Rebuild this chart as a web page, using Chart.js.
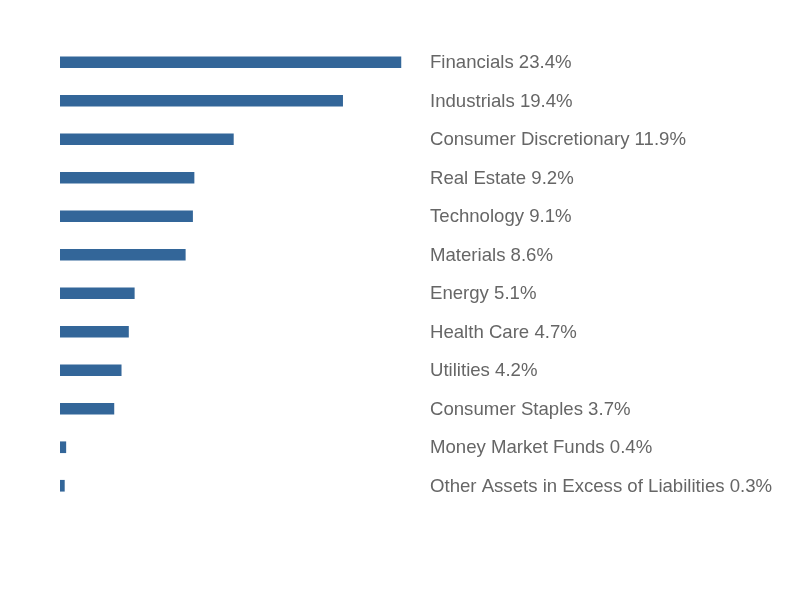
<!DOCTYPE html>
<html>
<head>
<meta charset="utf-8">
<script src="https://cdn.jsdelivr.net/npm/chart.js@4"></script>
<style>
  html, body { margin: 0; padding: 0; background: #fff; }
  #wrap { width: 792px; height: 600px; position: relative; }
</style>
</head>
<body>
<div id="wrap"><canvas id="sectors"></canvas></div>
<script>
// ===== Sector weights =====
const sectors = [
  'Financials', 'Industrials', 'Consumer Discretionary', 'Real Estate',
  'Technology', 'Materials', 'Energy', 'Health Care', 'Utilities',
  'Consumer Staples', 'Money Market Funds', 'Other Assets in Excess of Liabilities'
];
const weights = [23.4, 19.4, 11.9, 9.2, 9.1, 8.6, 5.1, 4.7, 4.2, 3.7, 0.4, 0.3];

const BAR_COLOR = '#336699';
const TEXT_COLOR = '#666666';

// draws "Name xx.x%" to the right of the plot area, aligned with each bar
const sideLabels = {
  id: 'sideLabels',
  afterDatasetsDraw(chart) {
    const { ctx, chartArea } = chart;
    const meta = chart.getDatasetMeta(0);
    ctx.save();
    ctx.font = '18.6px "Liberation Sans", Arial, sans-serif';
    ctx.fillStyle = TEXT_COLOR;
    ctx.textAlign = 'left';
    ctx.textBaseline = 'middle';
    meta.data.forEach((bar, i) => {
      ctx.fillText(`${sectors[i]} ${weights[i].toFixed(1)}%`, chartArea.right + 10, bar.y + 1);
    });
    ctx.restore();
  }
};

new Chart(document.getElementById('sectors'), {
  type: 'bar',
  data: {
    labels: sectors,
    datasets: [{ data: weights, backgroundColor: BAR_COLOR, barThickness: 11, borderSkipped: false }]
  },
  options: {
    indexAxis: 'y',
    responsive: true,
    maintainAspectRatio: false,
    animation: false,
    layout: { padding: { left: 60, right: 372, top: 43, bottom: 95 } },
    plugins: { legend: { display: false }, tooltip: { enabled: false } },
    scales: {
      x: { display: false, min: 0, max: 24.71 },
      y: { display: false }
    }
  },
  plugins: [sideLabels]
});
</script>
</body>
</html>
